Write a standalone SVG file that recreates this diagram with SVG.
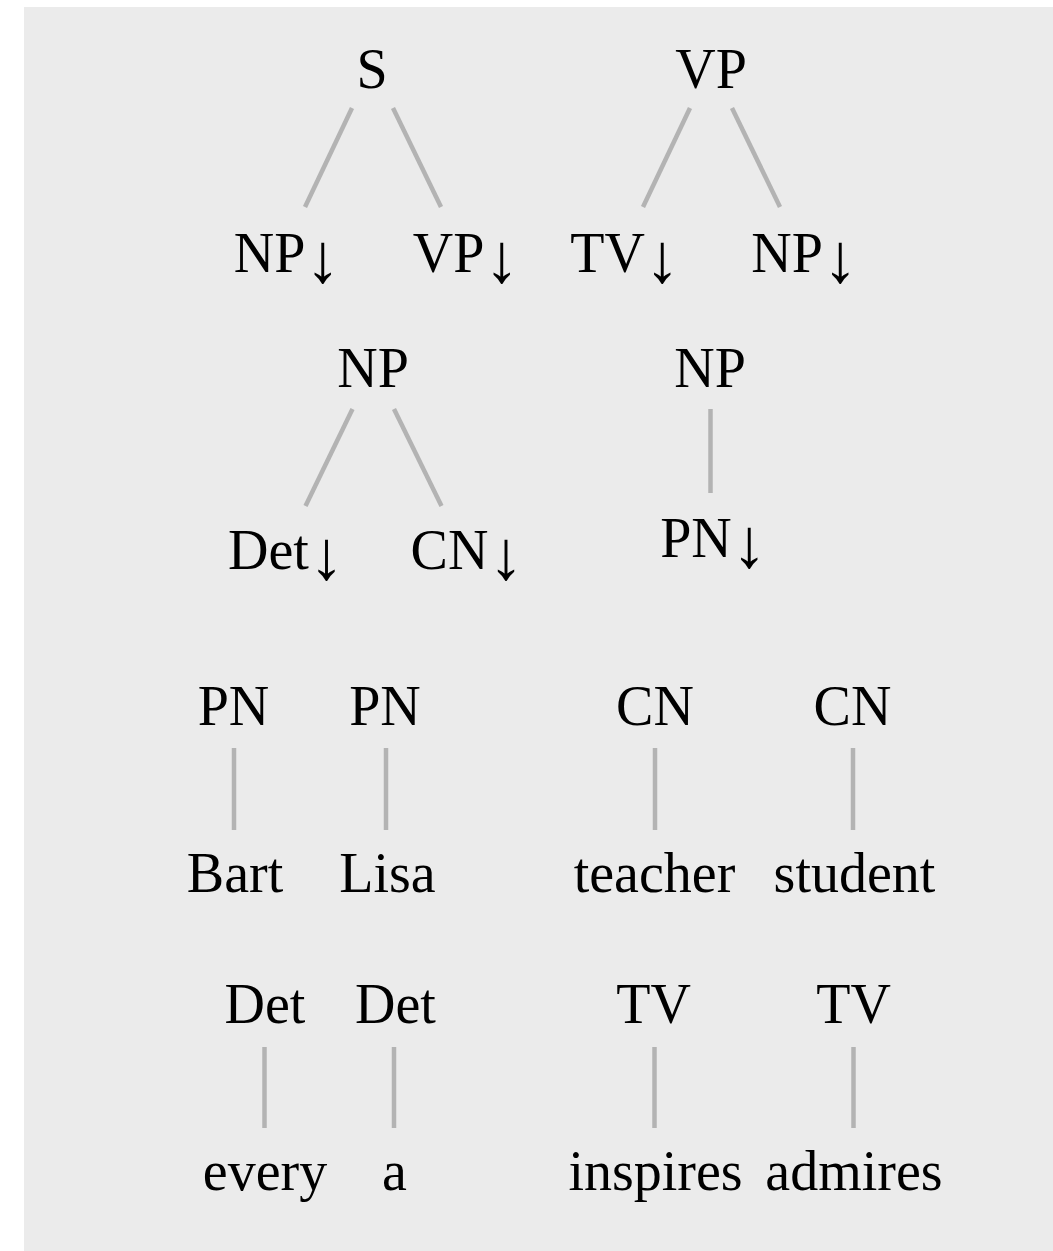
<svg xmlns="http://www.w3.org/2000/svg" width="1053" height="1251" viewBox="0 0 1053 1251">
  <style>
    .lbl { font-family: "Liberation Serif", "Times New Roman", serif; font-size: 56px; fill: #000; text-anchor: middle; }
    .arr { font-size: 70px; }
    .edge { stroke: #b3b3b3; stroke-width: 4.5; fill: none; }
  </style>
  <rect x="24" y="7" width="1029" height="1244" fill="#ebebeb"/>

  <!-- tree edges -->
  <g id="connectors">
    <line class="edge" x1="352" y1="108" x2="305" y2="207"/>
    <line class="edge" x1="393" y1="108" x2="441" y2="207"/>
    <line class="edge" x1="690" y1="108" x2="643" y2="207"/>
    <line class="edge" x1="732" y1="108" x2="780" y2="207"/>
    <line class="edge" x1="352.5" y1="409" x2="305.5" y2="506"/>
    <line class="edge" x1="394" y1="409" x2="441.5" y2="506"/>
    <line class="edge" x1="710.5" y1="409" x2="710.5" y2="493"/>
    <line class="edge" x1="234" y1="748" x2="234" y2="830"/>
    <line class="edge" x1="386" y1="748" x2="386" y2="830"/>
    <line class="edge" x1="655" y1="748" x2="655" y2="830"/>
    <line class="edge" x1="853" y1="748" x2="853" y2="830"/>
    <line class="edge" x1="264.5" y1="1047" x2="264.5" y2="1128"/>
    <line class="edge" x1="394" y1="1047" x2="394" y2="1128"/>
    <line class="edge" x1="654.5" y1="1047" x2="654.5" y2="1128"/>
    <line class="edge" x1="853.5" y1="1047" x2="853.5" y2="1128"/>
  </g>

  <!-- elementary tree: S -> NP↓ VP↓ -->
  <g id="n-S"><text class="lbl" x="372" y="88">S</text></g>
  <g id="n-S-NP"><text class="lbl" x="287" y="272">NP<tspan class="arr" dy="10">↓</tspan></text></g>
  <g id="n-S-VP"><text class="lbl" x="466" y="272">VP<tspan class="arr" dy="10">↓</tspan></text></g>

  <!-- elementary tree: VP -> TV↓ NP↓ -->
  <g id="n-VP"><text class="lbl" x="711" y="88">VP</text></g>
  <g id="n-VP-TV"><text class="lbl" x="625" y="272">TV<tspan class="arr" dy="10">↓</tspan></text></g>
  <g id="n-VP-NP"><text class="lbl" x="804.5" y="272">NP<tspan class="arr" dy="10">↓</tspan></text></g>

  <!-- elementary tree: NP -> Det↓ CN↓ -->
  <g id="n-NP1"><text class="lbl" x="373" y="387">NP</text></g>
  <g id="n-NP1-Det"><text class="lbl" x="286" y="569">Det<tspan class="arr" dy="10">↓</tspan></text></g>
  <g id="n-NP1-CN"><text class="lbl" x="467" y="569">CN<tspan class="arr" dy="10">↓</tspan></text></g>

  <!-- elementary tree: NP -> PN↓ -->
  <g id="n-NP2"><text class="lbl" x="710" y="387">NP</text></g>
  <g id="n-NP2-PN"><text class="lbl" x="713.5" y="557">PN<tspan class="arr" dy="10">↓</tspan></text></g>

  <!-- lexical trees: proper nouns -->
  <g id="n-PN-Bart"><text class="lbl" x="233.5" y="725">PN</text><text class="lbl" x="235" y="892">Bart</text></g>
  <g id="n-PN-Lisa"><text class="lbl" x="385" y="725">PN</text><text class="lbl" x="387.5" y="892">Lisa</text></g>

  <!-- lexical trees: common nouns -->
  <g id="n-CN-teacher"><text class="lbl" x="655" y="725">CN</text><text class="lbl" x="654.5" y="892">teacher</text></g>
  <g id="n-CN-student"><text class="lbl" x="852.5" y="725">CN</text><text class="lbl" x="854.5" y="892">student</text></g>

  <!-- lexical trees: determiners -->
  <g id="n-Det-every"><text class="lbl" x="265" y="1023">Det</text><text class="lbl" x="265" y="1190">every</text></g>
  <g id="n-Det-a"><text class="lbl" x="395.5" y="1023">Det</text><text class="lbl" x="394.5" y="1190">a</text></g>

  <!-- lexical trees: transitive verbs -->
  <g id="n-TV-inspires"><text class="lbl" x="653.5" y="1023">TV</text><text class="lbl" x="655.5" y="1190">inspires</text></g>
  <g id="n-TV-admires"><text class="lbl" x="853.5" y="1023">TV</text><text class="lbl" x="854" y="1190">admires</text></g>
</svg>
